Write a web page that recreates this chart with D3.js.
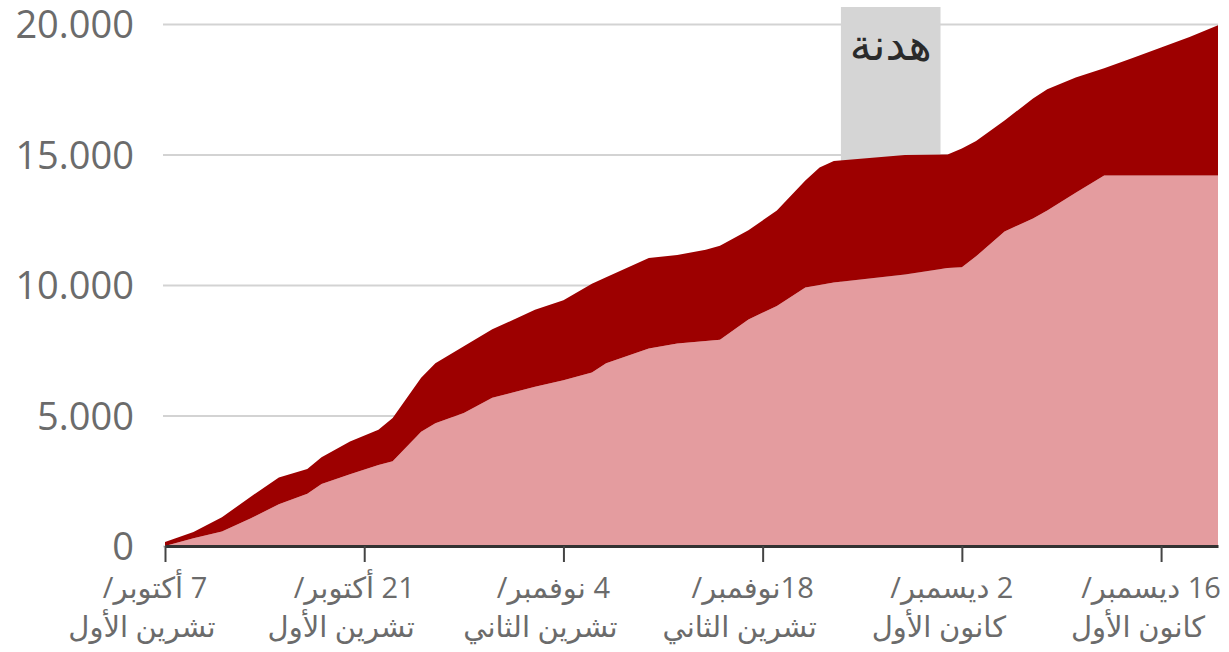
<!DOCTYPE html>
<html>
<head>
<meta charset="utf-8">
<script src="https://cdn.jsdelivr.net/npm/d3@7"></script>
<style>
  body { margin: 0; background: #fff; }
  svg { display: block; font-family: "Open Sans", "DejaVu Sans", sans-serif; }
</style>
</head>
<body>
<svg id="chart" width="1229" height="652"></svg>
<script>
// dates of the readings
const dates = [
  '2023-10-07', '2023-10-09', '2023-10-11', '2023-10-13', '2023-10-15', '2023-10-17',
  '2023-10-18', '2023-10-20', '2023-10-22', '2023-10-23', '2023-10-25', '2023-10-26',
  '2023-10-28', '2023-10-30', '2023-11-02', '2023-11-04', '2023-11-06', '2023-11-07',
  '2023-11-10', '2023-11-12', '2023-11-14', '2023-11-15', '2023-11-17', '2023-11-19',
  '2023-11-21', '2023-11-22', '2023-11-23', '2023-11-28', '2023-12-01', '2023-12-02',
  '2023-12-03', '2023-12-05', '2023-12-07', '2023-12-08', '2023-12-10', '2023-12-12',
  '2023-12-14', '2023-12-16', '2023-12-18', '2023-12-20'
];
// cumulative total (top of dark red)
const totalValues = [
  150, 540, 1100, 1880, 2620, 2950,
  3400, 4000, 4450, 4900, 6450, 7000,
  7650, 8300, 9050, 9420, 10050, 10300,
  11030, 11150, 11350, 11500, 12100, 12850,
  14000, 14500, 14750, 14980, 15000, 15230,
  15520, 16300, 17150, 17500, 17950, 18300,
  18700, 19100, 19500, 19950
];
// lower (pink) series
const lowerValues = [
  0, 300, 560, 1050, 1600, 2000,
  2380, 2750, 3100, 3250, 4380, 4700,
  5100, 5680, 6100, 6350, 6650, 7000,
  7570, 7760, 7850, 7900, 8680, 9200,
  9900, 10000, 10100, 10400, 10650, 10680,
  11100, 12050, 12550, 12850, 13530, 14200,
  14200, 14200, 14200, 14200
];

const yTicks = [0, 5000, 10000, 15000, 20000];
const xTickDates = ['2023-10-07', '2023-10-21', '2023-11-04', '2023-11-18', '2023-12-02', '2023-12-16'];
const xTickLine1 = ['7 أكتوبر/', '21 أكتوبر/', '4 نوفمبر/', '18نوفمبر/', '2 ديسمبر/', '16 ديسمبر/'];
const xTickLine2 = ['تشرين الأول', 'تشرين الأول', 'تشرين الثاني', 'تشرين الثاني', 'كانون الأول', 'كانون الأول'];

const truceLabel = 'هدنة';
const truceRange = ['2023-11-23T12:00', '2023-11-30T12:00'];

const parseDate = d3.utcParse('%Y-%m-%d');
const parseTime = d3.utcParse('%Y-%m-%dT%H:%M');

const rows = dates.map((d, i) => ({ date: parseDate(d), total: totalValues[i], lower: lowerValues[i] }));

const svg = d3.select('#chart');
const margin = { top: 24, right: 11, bottom: 106, left: 165 };
const width = 1229, height = 652;

const x = d3.scaleUtc()
  .domain([parseDate('2023-10-07'), parseDate('2023-12-20')])
  .range([margin.left, width - margin.right]);

const y = d3.scaleLinear()
  .domain([0, 20000])
  .range([height - margin.bottom, margin.top]);

const locale = d3.formatLocale({ decimal: ',', thousands: '.', grouping: [3], currency: ['', ''] });
const fmt = locale.format(',d');

// grid + y labels
const yAxis = svg.append('g')
  .attr('transform', 'translate(' + (margin.left - 2) + ',0)')
  .call(d3.axisLeft(y)
    .tickValues(yTicks)
    .tickFormat(fmt)
    .tickSize(-(width - margin.right - margin.left + 2))
    .tickPadding(29));
yAxis.select('.domain').remove();
yAxis.selectAll('.tick line').attr('stroke', '#d3d3d3').attr('stroke-width', 2);
yAxis.selectAll('.tick text')
  .attr('fill', '#6b6b6b')
  .attr('dy', '0.36em')
  .style('font-size', '38px')
  .style('font-family', '"Open Sans", sans-serif');

// truce band
svg.append('rect')
  .attr('x', x(parseTime(truceRange[0])))
  .attr('width', x(parseTime(truceRange[1])) - x(parseTime(truceRange[0])))
  .attr('y', y(20000) - 17)
  .attr('height', y(0) - y(20000) + 17)
  .attr('fill', '#d5d5d5');

// lower area
svg.append('path')
  .datum(rows)
  .attr('fill', '#e49c9f')
  .attr('d', d3.area()
    .x(d => x(d.date))
    .y0(y(0))
    .y1(d => y(d.lower)));

// upper area
svg.append('path')
  .datum(rows)
  .attr('fill', '#9d0000')
  .attr('d', d3.area()
    .x(d => x(d.date))
    .y0(d => y(d.lower))
    .y1(d => y(d.total)));

// x axis
const xAxis = svg.append('g')
  .attr('transform', 'translate(0,' + y(0) + ')')
  .call(d3.axisBottom(x)
    .tickValues(xTickDates.map(parseDate))
    .tickSize(16)
    .tickSizeOuter(0)
    .tickFormat(''));
xAxis.select('.domain').attr('stroke', '#333').attr('stroke-width', 3);
xAxis.selectAll('.tick line').attr('stroke', '#444').attr('stroke-width', 2);

const labels = svg.append('g')
  .attr('fill', '#6b6b6b')
  .style('font-size', '29px')
  .attr('text-anchor', 'middle');

xTickDates.forEach((d, i) => {
  const cx = x(parseDate(d));
  labels.append('text')
    .attr('x', cx - 10)
    .attr('y', 598)
    .attr('direction', 'rtl')
    .text(xTickLine1[i]);
  labels.append('text')
    .attr('x', cx - 23)
    .attr('y', 637)
    .attr('direction', 'rtl')
    .text(xTickLine2[i]);
});

// truce label
svg.append('text')
  .attr('x', (x(parseTime(truceRange[0])) + x(parseTime(truceRange[1]))) / 2)
  .attr('y', 60)
  .attr('text-anchor', 'middle')
  .attr('direction', 'rtl')
  .attr('fill', '#2a2a2a')
  .style('font-size', '44px')
  .style('font-weight', 'normal')
  .text(truceLabel);
</script>
</body>
</html>
